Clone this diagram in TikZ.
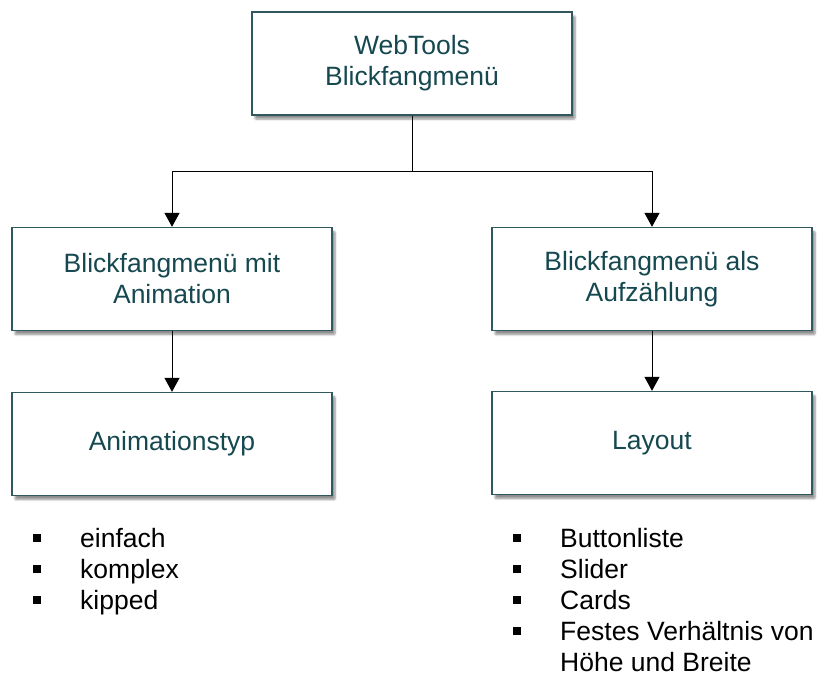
\documentclass[tikz,border=0pt]{standalone}
\usepackage{fontspec}
\setmainfont{Liberation Sans}
\usetikzlibrary{shadows.blur,arrows.meta}
\definecolor{boxline}{RGB}{47,88,95}
\definecolor{boxtext}{RGB}{22,72,80}
\tikzset{
  box/.style={draw=boxline, line width=1.3pt, fill=white, minimum width=320pt, minimum height=103pt,
    align=center, text=boxtext, font=\fontsize{26.5}{31}\selectfont, inner sep=0pt,
    blur shadow={shadow xshift=3pt, shadow yshift=-4pt, shadow blur steps=6, shadow blur extra rounding=1pt, shadow opacity=45}},
  conn/.style={line width=1pt, -{Triangle[length=14pt,width=15pt]}},
  item/.style={anchor=base west, inner sep=0pt, font=\fontsize{26.5}{31}\selectfont},
  bul/.style={fill=black, minimum size=7.5pt, inner sep=0pt},
}
\begin{document}
\begin{tikzpicture}[x=1pt,y=-1pt]
\useasboundingbox (0,0) rectangle (818,680);
\node[box] (top) at (412,63.5) {WebTools\\Blickfangmenü};
\node[box] (lm) at (172,279) {Blickfangmenü mit\\Animation};
\node[box] (rm) at (652,279) {Blickfangmenü als\\Aufzählung};
\node[box] (lb) at (172,444) {Animationstyp};
\node[box] (rb) at (652,443) {Layout};
\coordinate (j) at (412,171);
\draw[conn] (top.south) -- (j) -| (lm.north);
\draw[conn] (j) -| (rm.north);
\draw[conn] (lm.south) -- (lb.north);
\draw[conn] (rm.south) -- (rb.north);
% left list
\node[bul] (b1) at (37,538) {};
\node[item] (t1) at (80,547) {einfach};
\node[bul] (b2) at (37,569) {};
\node[item] (t2) at (80,578) {komplex};
\node[bul] (b3) at (37,600) {};
\node[item] (t3) at (80,609) {kipped};
% right list
\node[bul] (c1) at (517,538) {};
\node[item] (u1) at (560,547) {Buttonliste};
\node[bul] (c2) at (517,569) {};
\node[item] (u2) at (560,578) {Slider};
\node[bul] (c3) at (517,600) {};
\node[item] (u3) at (560,609) {Cards};
\node[bul] (c4) at (517,631) {};
\node[item] (u4) at (560,640) {Festes Verhältnis von};
\node[item] (u5) at (560,671) {Höhe und Breite};
\end{tikzpicture}
\end{document}
